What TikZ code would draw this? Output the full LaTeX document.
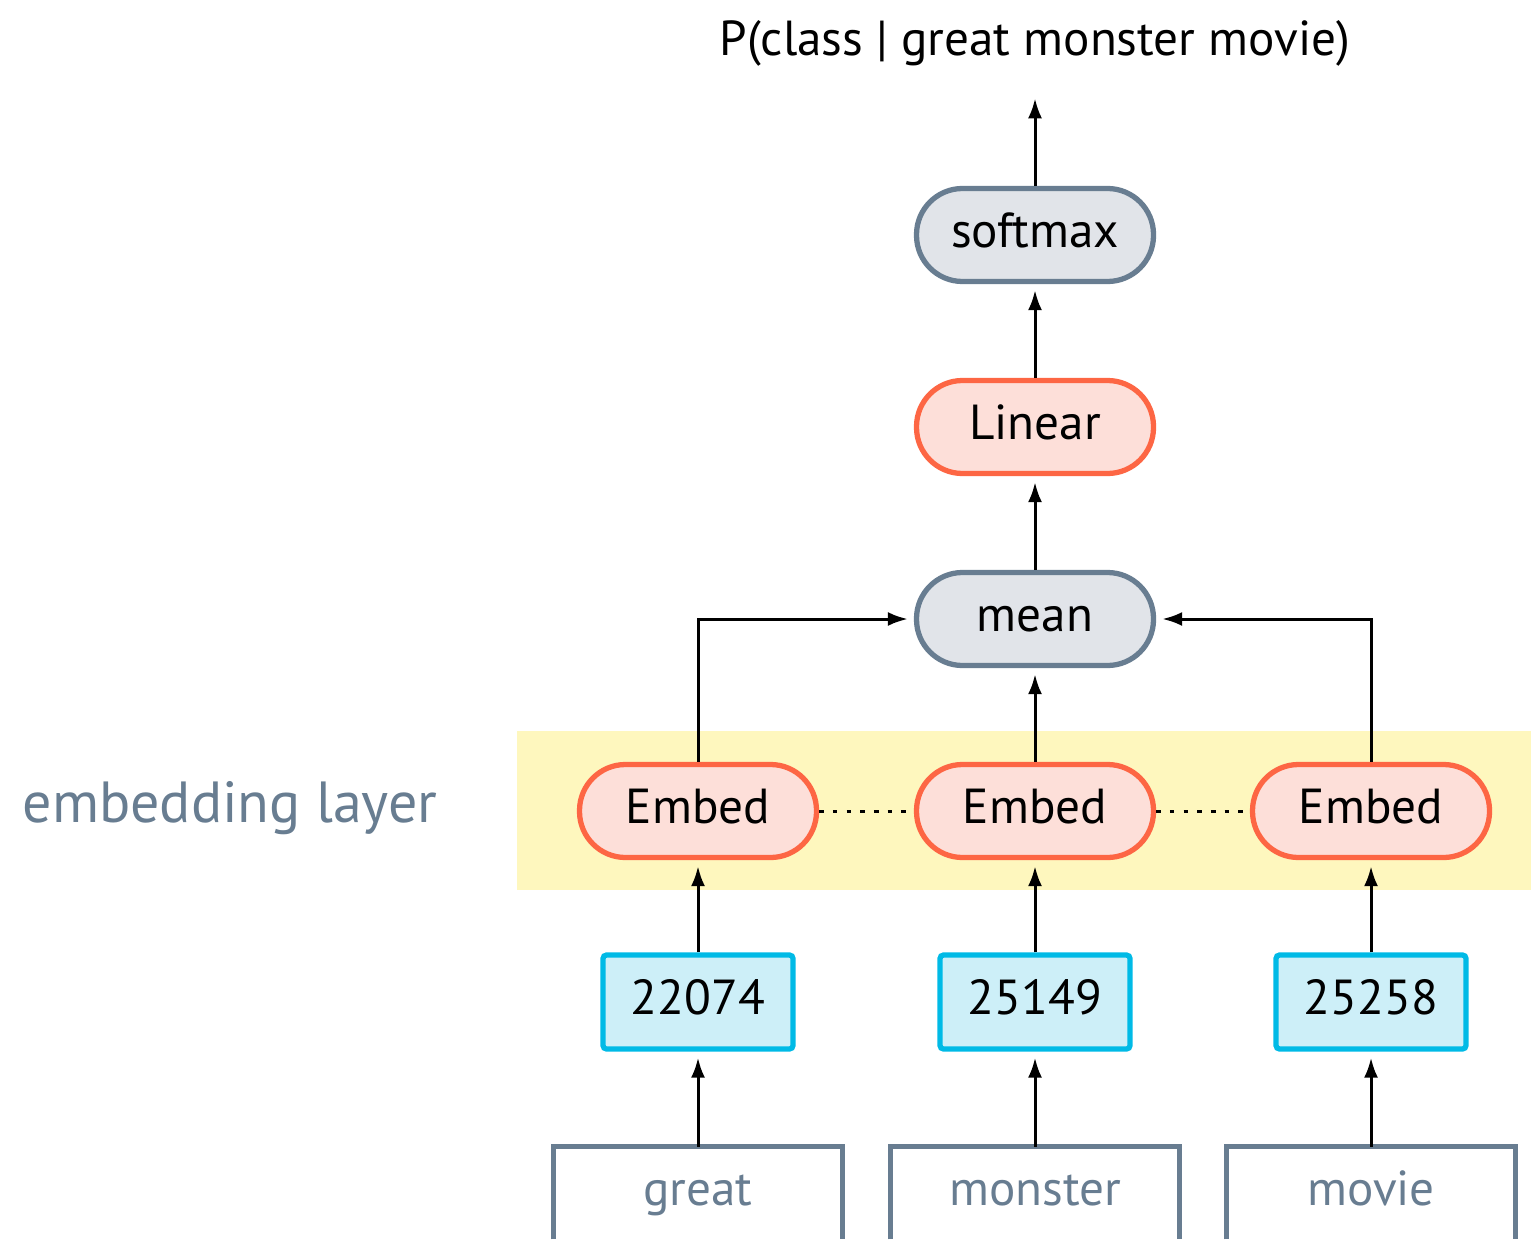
\documentclass[tikz,border=0pt]{standalone}
\usepackage{fontspec}
\setmainfont{PT Sans}
\usetikzlibrary{arrows.meta, positioning}

\definecolor{slate}{HTML}{687D91}
\definecolor{slatefill}{HTML}{E1E4E9}
\definecolor{opred}{HTML}{FD6644}
\definecolor{oppink}{HTML}{FDDFD9}
\definecolor{idcyan}{HTML}{00BAE6}
\definecolor{idfill}{HTML}{CDEFF8}
\definecolor{layeryellow}{HTML}{FEF7BE}

\tikzset{
    pill/.style={draw, line width=1.5pt, rounded corners=0.46cm,
        minimum width=2.37cm, minimum height=0.93cm,
        text height=10pt, text depth=3pt, font=\fontsize{14}{16}\selectfont},
    oppill/.style={pill, draw=opred, fill=oppink},
    grpill/.style={pill, draw=slate, fill=slatefill},
    idbox/.style={draw=idcyan, fill=idfill, line width=1.5pt, rounded corners=1pt,
        minimum width=1.90cm, minimum height=0.94cm,
        text height=10pt, text depth=3pt, font=\fontsize{14}{16}\selectfont},
    wordbox/.style={minimum width=2.87cm, minimum height=0.915cm, inner sep=0pt,
        text=slate, text height=10pt, text depth=3pt, font=\fontsize{14}{16}\selectfont},
    flow/.style={-{Latex[length=0.2cm, width=0.14cm]}, line width=0.85pt, shorten >=0.06cm},
}

\begin{document}
\begin{tikzpicture}
            \useasboundingbox (0, 0) rectangle (15.31, -12.39);

            % the embedding layer band
            \fill[layeryellow] (5.17, -7.31) rectangle (15.31, -8.90);
            \node[text=slate, font=\fontsize{16.5}{20}\selectfont] (layerlabel) at (2.30, -8.08) {embedding layer};

            % words and their ids
            \node[wordbox] (w1) at (6.98, -11.93) {great};
            \node[wordbox] (w2) at (10.35, -11.93) {monster};
            \node[wordbox] (w3) at (13.71, -11.93) {movie};
            \foreach \w in {w1, w2, w3}
                \draw[slate, line width=1.5pt] (\w.south west) -- (\w.north west) -- (\w.north east) -- (\w.south east);

            \node[idbox] (id1) at (6.98, -10.02) {22074};
            \node[idbox] (id2) at (10.35, -10.02) {25149};
            \node[idbox] (id3) at (13.71, -10.02) {25258};

            \node[oppill] (e1) at (6.98, -8.11) {Embed};
            \node[oppill] (e2) at (10.35, -8.11) {Embed};
            \node[oppill] (e3) at (13.71, -8.11) {Embed};

            \node[grpill] (mean) at (10.35, -6.19) {mean};
            \node[oppill] (linear) at (10.35, -4.27) {Linear};
            \node[grpill] (softmax) at (10.35, -2.35) {softmax};
            \node[font=\fontsize{14}{16}\selectfont] (out) at (10.35, -0.43) {P(class | great monster movie)};

            \foreach \i in {1, 2, 3} {
                \draw[flow] (w\i.north) -- (id\i.south);
                \draw[flow] (id\i.north) -- (e\i.south);
            }

            \draw[line width=0.85pt, dash pattern=on 1.3pt off 2.6pt] (e1.east) -- (e2.west);
            \draw[line width=0.85pt, dash pattern=on 1.3pt off 2.6pt] (e2.east) -- (e3.west);

            \draw[flow] (e1.north) |- (mean.west);
            \draw[flow] (e3.north) |- (mean.east);
            \draw[flow] (e2.north) -- (mean.south);
            \draw[flow] (mean.north) -- (linear.south);
            \draw[flow] (linear.north) -- (softmax.south);
            \draw[flow, shorten >=0.2cm] (softmax.north) -- (out.south);
        \end{tikzpicture}
\end{document}
